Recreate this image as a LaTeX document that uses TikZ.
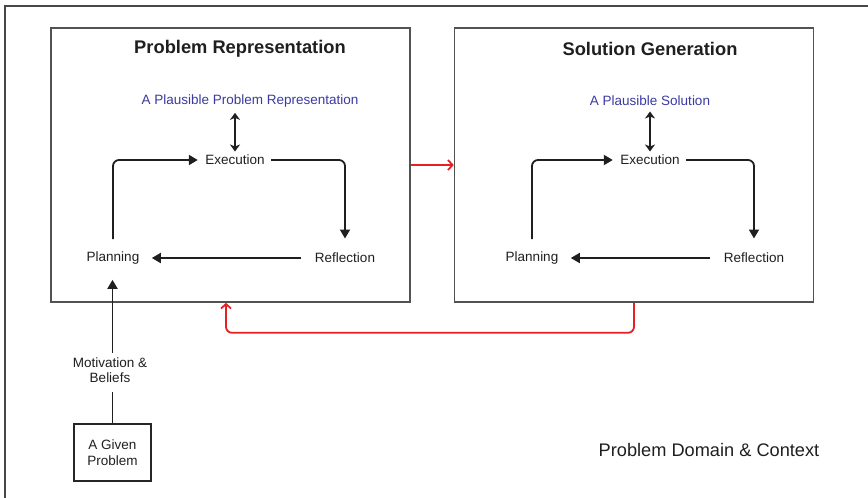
\documentclass[tikz,border=0pt]{standalone}
\usepackage{fontspec}
\setmainfont{Liberation Sans}
\usetikzlibrary{positioning, arrows.meta}
\definecolor{goalblue}{RGB}{58,58,160}
\definecolor{linkred}{RGB}{228,32,36}

\begin{document}
\begin{tikzpicture}[
  x=1pt, y=-1pt,
  every node/.style={font=\fontsize{13.5}{15.5}\selectfont, text=black!88},
  frame/.style  = {draw=black!72, line width=1.8pt},
  panel/.style  = {draw=black!68, line width=1.6pt, minimum width=359pt, minimum height=274pt, inner sep=0pt},
  title/.style  = {font=\fontsize{18.3}{20}\selectfont\bfseries},
  goal/.style   = {text=goalblue},
  given/.style  = {draw=black!85, line width=1.6pt, minimum width=77pt, minimum height=57pt, align=center, inner sep=2pt},
  arr/.style    = {-{Triangle[length=9pt,width=10pt]}, line width=1.8pt, black!88, rounded corners=6pt},
  dbl/.style    = {{Stealth[length=7pt,width=10pt,inset=2pt]}-{Stealth[length=7pt,width=10pt,inset=2pt]}, line width=1.8pt, black!88},
  link/.style   = {-{Straight Barb[length=4.5pt,width=10pt]}, line width=1.8pt, linkred, rounded corners=6pt},
]
  \clip (0,0) rectangle (868,498);
  \draw[frame] (5,6) rectangle (890,520);

  % the two stages
  \node[panel] (rep) at (230.5,165) {};
  \node[panel] (sol) at (634,165)   {};

  \node[title] (rep-t) at (240,49)  {Problem Representation};
  \node[goal]  (rep-g) at (250,101) {A Plausible Problem Representation};
  \node        (rep-e) at (235,160) {Execution};
  \node        (rep-r) at (345,258) {Reflection};
  \node        (rep-p) at (113,258) {Planning};

  \node[title] (sol-t) at (650,49)  {Solution Generation};
  \node[goal]  (sol-g) at (650,101) {A Plausible Solution};
  \node        (sol-e) at (650,160) {Execution};
  \node        (sol-r) at (754,258) {Reflection};
  \node        (sol-p) at (532,258) {Planning};

  \foreach \b in {rep,sol}{
    \draw[dbl, shorten <=2pt, shorten >=0pt] (\b-e.north |- \b-g.south) -- (\b-e.north);
    \draw[arr, shorten <=9pt, shorten >=4pt]   (\b-p.north) |- (\b-e.west);
    \draw[arr, shorten <=3pt, shorten >=11pt]  (\b-e.east) -| (\b-r.north);
    \draw[arr, shorten <=10pt, shorten >=9pt]  (\b-r.west) -- (\b-p.east);
  }

  % the problem coming in
  \node[given] (given) at (112.5,452.5) {A Given\\Problem};
  \node[align=center] (motiv) at (110,370) {Motivation \&\\Beliefs};
  \draw[line width=1.8pt, black!88, shorten >=6pt] (given.north) -- (given |- motiv.south);
  \draw[arr, shorten <=1pt, shorten >=12pt] (given |- motiv.north) -- (given |- rep-p.south);

  % links between the stages
  \draw[link] (rep.east) -- (sol.west);
  \draw[link] (sol.south) -- ++(0,30) -| ([xshift=-4.5pt]rep.south);

  \node[font=\fontsize{18.2}{20}\selectfont] (domain) at (709,450) {Problem Domain \& Context};
\end{tikzpicture}
\end{document}
